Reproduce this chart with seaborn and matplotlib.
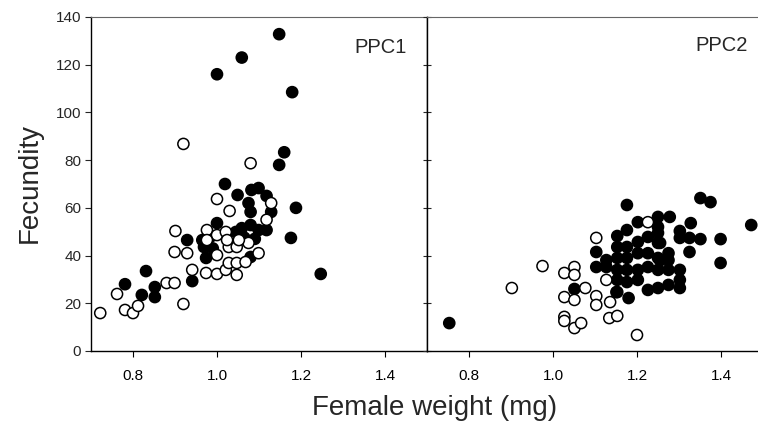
import matplotlib
matplotlib.use("Agg")
import matplotlib.pyplot as plt
import numpy as np
import pandas as pd
import seaborn as sns

# ---------------- data ----------------
ppc1_open_w = [0.722, 0.762, 0.781, 0.800, 0.812, 0.880, 0.899, 0.920, 0.899, 0.929,
               0.901, 0.920, 0.941, 0.974, 1.000, 1.021, 1.047, 1.028, 1.047, 1.068,
               1.000, 1.028, 1.047, 1.075, 1.099, 0.976, 1.000, 1.021, 0.976, 1.024,
               1.052, 1.000, 1.030, 1.080, 1.129, 1.118]
ppc1_open_f = [15.9, 23.9, 17.2, 15.9, 18.9, 28.5, 28.5, 19.7, 41.5, 41.0,
               50.3, 86.8, 34.0, 32.7, 32.3, 34.0, 31.9, 36.9, 36.9, 37.3,
               40.2, 43.6, 43.6, 45.3, 41.0, 50.7, 48.6, 49.9, 46.5, 46.5,
               46.5, 63.7, 58.7, 78.7, 62.0, 55.0]

ppc1_fill_w = [0.781, 0.821, 0.831, 0.852, 0.852, 0.929, 0.941, 0.969, 0.974, 0.965,
               1.000, 1.019, 1.049, 1.082, 1.099, 1.118, 1.075, 1.080, 1.129, 1.188,
               1.045, 1.059, 1.080, 1.099, 1.118, 1.080, 1.176, 1.247, 1.000, 1.059,
               1.148, 1.179, 1.160, 1.148, 1.065, 1.090, 0.990, 0.985]
ppc1_fill_f = [28.0, 23.5, 33.5, 26.8, 22.6, 46.5, 29.3, 43.6, 39.0, 46.5,
               53.6, 70.0, 65.4, 67.5, 68.3, 65.0, 62.0, 58.3, 58.3, 60.0,
               49.9, 51.5, 52.8, 50.7, 50.7, 39.4, 47.4, 32.3, 116.0, 123.0,
               132.8, 108.5, 83.3, 78.0, 47.5, 47.0, 43.0, 48.0]

ppc2_open_w = [0.902, 0.975, 1.027, 1.051, 1.051, 1.077, 1.027, 1.051, 1.103, 1.103,
               1.027, 1.027, 1.051, 1.067, 1.136, 1.134, 1.153, 1.200, 1.103, 1.127,
               1.226]
ppc2_open_f = [26.4, 35.6, 32.7, 35.2, 31.9, 26.4, 22.6, 21.4, 23.0, 19.3,
               14.3, 12.6, 9.6, 11.7, 20.5, 13.8, 14.7, 6.7, 47.4, 29.8,
               54.0]

ppc2_fill_w = [0.753, 1.051, 1.103, 1.103, 1.176, 1.202, 1.250, 1.278, 1.250, 1.351,
               1.375, 1.472, 1.399, 1.399, 1.328, 1.302, 1.302, 1.325, 1.325, 1.351,
               1.153, 1.176, 1.153, 1.176, 1.202, 1.226, 1.250, 1.275, 1.202, 1.226,
               1.250, 1.226, 1.250, 1.275, 1.302, 1.302, 1.302, 1.275, 1.250, 1.226,
               1.202, 1.176, 1.153, 1.180, 1.127, 1.127, 1.153, 1.176, 1.202, 1.153,
               1.275, 1.153, 1.176, 1.250, 1.151, 1.255, 1.255]
ppc2_fill_f = [11.7, 26.0, 41.5, 35.2, 61.2, 54.0, 56.2, 56.2, 52.0, 64.1,
               62.4, 52.8, 46.9, 36.9, 53.6, 50.3, 47.4, 47.4, 41.5, 46.9,
               48.2, 50.7, 43.6, 43.6, 45.7, 47.8, 45.3, 41.0, 41.0, 41.0,
               39.0, 35.2, 34.0, 34.0, 34.0, 29.8, 26.4, 27.7, 26.4, 25.6,
               29.8, 28.9, 24.7, 22.2, 35.2, 38.1, 34.0, 34.0, 34.0, 29.8,
               38.1, 39.0, 39.0, 49.5, 24.7, 45.3, 38.0]

panel_names = ["PPC1", "PPC2"]
x_ticks = [0.8, 1.0, 1.2, 1.4]
y_ticks = [0, 20, 40, 60, 80, 100, 120, 140]


def make_df(fw, ff, ow, of):
    return pd.DataFrame({
        "weight": list(fw) + list(ow),
        "fecundity": list(ff) + list(of),
        "kind": ["filled"] * len(fw) + ["open"] * len(ow),
    })


dfs = [make_df(ppc1_fill_w, ppc1_fill_f, ppc1_open_w, ppc1_open_f),
       make_df(ppc2_fill_w, ppc2_fill_f, ppc2_open_w, ppc2_open_f)]

# ---------------- style ----------------
sns.set_style("ticks")
plt.rcParams["font.family"] = ["Liberation Sans", "DejaVu Sans"]

fig = plt.figure(figsize=(7.58, 4.30), dpi=100)
L, B = 91 / 758, 1 - 351 / 430
W, H = 336 / 758, 334 / 430
ax1 = fig.add_axes([L, B, W, H])
ax2 = fig.add_axes([L + W, B, W, H], sharey=ax1)

for ax, df, name in zip([ax1, ax2], dfs, panel_names):
    sns.scatterplot(data=df, x="weight", y="fecundity", hue="kind",
                    palette={"filled": "black", "open": "white"},
                    edgecolor="black", linewidth=1.1, s=64, legend=False,
                    ax=ax, zorder=3, clip_on=True)
    ax.set_xlim(0.7, 1.5)
    ax.set_ylim(0, 140)
    ax.set_xticks(x_ticks)
    ax.set_xticklabels([f"{t:.1f}" for t in x_ticks])
    ax.set_xlabel("")
    ax.set_ylabel("")
    ax.tick_params(axis="x", direction="out", length=4, width=0.8, pad=9,
                   labelsize=11, colors="black")
    for s in ["left", "bottom", "right"]:
        ax.spines[s].set_color("black")
        ax.spines[s].set_linewidth(1.0)
    ax.spines["top"].set_color("0.4")
    ax.spines["top"].set_linewidth(0.8)
    ax.spines["top"].set_visible(True)
    ax.spines["right"].set_visible(True)

ax1.set_yticks(y_ticks)
ax1.tick_params(axis="y", direction="out", length=4, width=0.8, pad=3,
                labelsize=11)
ax2.tick_params(axis="y", direction="inout", length=6, width=0.8,
                labelleft=False)

ax1.text(0.94, 0.937, panel_names[0], transform=ax1.transAxes,
         ha="right", va="top", fontsize=14.5)
ax2.text(0.955, 0.943, panel_names[1], transform=ax2.transAxes,
         ha="right", va="top", fontsize=14.5)

fig.text(435 / 758, 1 - 408 / 430, "Female weight (mg)", ha="center",
         va="center", fontsize=20)
fig.text(30 / 758, 1 - 183 / 430, "Fecundity", ha="center", va="center",
         rotation=90, fontsize=20)

fig.savefig("out.png", dpi=100)
